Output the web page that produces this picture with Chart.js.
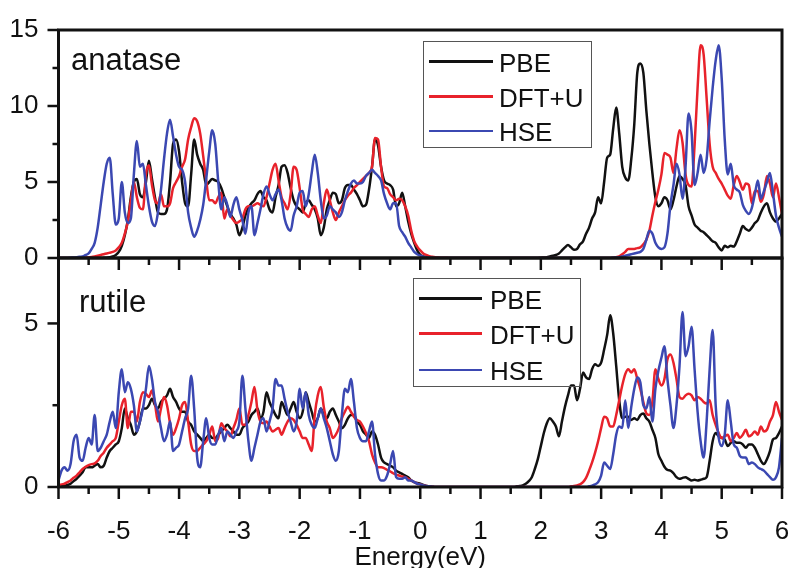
<!DOCTYPE html>
<html>
<head>
<meta charset="utf-8">
<script src="https://cdn.jsdelivr.net/npm/chart.js@4.4.1/dist/chart.umd.min.js"></script>
<style>
  html, body { margin: 0; padding: 0; background: #ffffff; }
  #wrap { position: relative; width: 790px; height: 568px; overflow: hidden;
          font-family: "Liberation Sans", Arial, sans-serif; color: #111; }
  #wrap canvas { position: absolute; left: 0; top: 0; }
  .panel-label { position: absolute; font-size: 31px; line-height: 31px; white-space: nowrap; }
  .legend { position: absolute; box-sizing: border-box; border: 1.5px solid #555; }
  .legend-line { position: absolute; height: 2.5px; }
  .legend-text { position: absolute; font-size: 26px; line-height: 26px; white-space: nowrap; }
</style>
</head>
<body>
<div id="wrap">
  <canvas id="topChart" width="790" height="568"></canvas>
  <canvas id="bottomChart" width="790" height="568"></canvas>
</div>
<script>
// ---------------- DATA ----------------
const energyStart = -6;          // eV, first sample
const energyStep = 0.05;         // eV between samples
const xTickValues = [-6, -5, -4, -3, -2, -1, 0, 1, 2, 3, 4, 5, 6];
const yTopTicks = [0, 5, 10, 15];
const yBottomTicks = [0, 5];
const xTitle = 'Energy(eV)';
const panelNames = ['anatase', 'rutile'];
const seriesNames = ['PBE', 'DFT+U', 'HSE'];
const seriesColors = ['#111111', '#e8222b', '#3b48b2'];

// anatase (top panel), one value every 0.05 eV from -6 to 6, one row per eV
const anatasePBE = [
  0,0,0,0,0,0,0,0,0,0,0,0,0,0,0,0.01,0.02,0.05,0.1,0.2,
  0.4,0.8,1.5,2.5,4.0,5.0,5.2,4.2,4.0,5.0,6.4,5.2,4.0,3.0,2.9,2.9,3.2,5.0,7.5,7.8,
  7.0,5.0,3.6,3.4,5.5,7.8,6.8,6.2,5.8,4.8,5.0,5.2,5.1,5.0,4.6,4.0,3.4,2.9,2.6,2.2,
  1.5,2.0,2.8,3.3,3.6,3.8,4.2,4.4,4.0,3.8,3.2,3.0,4.0,4.8,6.0,6.1,5.6,4.6,3.8,3.4,
  3.2,3.0,3.6,3.8,3.5,3.2,2.6,1.5,2.0,3.2,3.8,4.3,4.2,3.6,3.8,4.6,4.8,4.8,4.5,4.2,
  3.8,3.4,3.5,4.5,6.0,7.8,7.4,6.0,5.1,4.9,4.8,4.5,3.4,3.6,4.3,3.4,2.4,1.6,1.0,0.5,
  0.2,0.1,0.05,0.03,0.02,0.01,0.01,0,0,0,0,0,0,0,0,0,0,0,0,0,
  0,0,0,0,0,0,0,0,0,0,0,0,0,0,0,0,0,0,0,0,
  0.02,0.03,0.05,0.1,0.15,0.2,0.3,0.5,0.7,0.85,0.7,0.55,0.6,0.9,1.1,1.6,2.0,2.6,3.0,4.0,
  3.6,5.0,6.6,6.8,8.5,9.9,8.2,6.0,5.3,5.1,6.5,8.8,12.2,12.8,12.2,9.7,7.5,5.6,4.0,3.4,
  3.6,4.0,3.8,3.2,3.8,4.7,5.4,5.2,4.8,3.4,2.8,2.2,2.0,1.8,1.7,1.5,1.3,1.1,1.0,0.7,
  0.5,0.8,0.7,0.8,0.75,1.1,1.6,2.1,1.9,1.8,2.0,2.3,2.5,3.0,3.4,3.6,3.0,2.6,2.4,2.6,
  2.9
];
const anataseDFTU = [
  0,0,0,0,0,0,0,0,0,0.02,0.04,0.06,0.1,0.15,0.2,0.25,0.3,0.35,0.4,0.5,
  0.7,1.0,1.6,2.4,3.8,5.0,4.0,3.3,3.2,5.5,6.1,4.8,3.8,3.6,4.2,3.4,3.4,3.6,4.6,5.0,
  5.4,6.0,6.5,7.8,8.6,9.2,9.0,8.2,6.7,5.1,3.8,3.8,3.6,4.0,4.3,2.6,3.2,2.8,2.5,2.3,
  2.4,2.6,3.2,3.4,3.4,3.5,3.6,3.5,3.4,4.0,4.9,5.8,6.2,5.1,4.0,3.6,3.2,4.2,6.0,5.8,
  4.6,3.2,2.9,2.7,3.2,3.4,2.8,2.3,3.6,4.5,3.8,3.0,2.5,3.0,3.4,3.8,4.1,4.3,4.6,4.8,
  5.0,5.2,5.4,5.6,6.0,7.9,7.8,6.0,4.7,4.6,4.2,4.0,3.8,3.9,3.8,3.4,2.8,1.8,1.1,0.75,
  0.5,0.3,0.2,0.12,0.08,0.05,0.03,0.02,0.01,0.01,0,0,0,0,0,0,0,0,0,0,
  0,0,0,0,0,0,0,0,0,0,0,0,0,0,0,0,0,0,0,0,
  0,0,0,0,0,0,0,0,0,0,0,0,0,0,0,0,0,0,0,0,
  0,0,0,0,0.02,0.05,0.1,0.25,0.4,0.6,0.6,0.6,0.65,0.7,0.9,1.2,1.8,2.8,3.7,4.5,
  5.5,6.9,6.8,6.6,5.6,7.2,8.4,7.6,5.5,4.8,4.7,7.4,11.2,14.0,13.4,10.5,7.5,6.0,5.6,5.2,
  4.9,4.5,4.1,3.9,4.8,5.4,5.0,4.5,4.9,4.8,3.6,4.4,4.4,3.7,4.2,5.4,4.9,4.0,4.9,4.0,
  2.9
];
const anataseHSE = [
  0,0,0,0,0.02,0.03,0.05,0.08,0.1,0.2,0.3,0.6,1.0,2.0,3.5,5.0,6.2,6.6,4.2,2.2,
  2.6,5.0,3.0,2.3,2.6,5.5,7.7,6.0,6.2,4.8,3.4,2.4,2.1,3.0,4.5,6.5,8.2,9.1,8.0,6.8,
  6.0,5.8,5.0,3.0,2.0,1.4,1.8,2.5,3.5,5.2,7.0,8.4,7.5,5.0,3.2,4.0,3.5,2.7,3.5,4.0,
  3.2,2.5,1.6,3.0,3.4,1.5,2.3,3.2,4.2,4.7,4.2,3.8,4.2,4.5,3.8,2.6,2.0,1.8,2.8,3.4,
  4.3,4.4,3.4,4.2,5.6,6.8,5.6,3.8,2.6,2.8,3.4,3.2,3.0,2.7,3.0,3.8,4.4,4.9,5.1,4.9,
  4.9,5.0,5.4,5.6,5.8,5.6,5.4,5.1,4.2,3.6,3.2,3.6,3.6,2.1,1.7,1.4,1.0,0.7,0.4,0.25,
  0.15,0.08,0.04,0.02,0.01,0,0,0,0,0,0,0,0,0,0,0,0,0,0,0,
  0,0,0,0,0,0,0,0,0,0,0,0,0,0,0,0,0,0,0,0,
  0,0,0,0,0,0,0,0,0,0,0,0,0,0,0,0,0,0,0,0,
  0,0,0,0,0.02,0.03,0.05,0.1,0.15,0.2,0.25,0.3,0.35,0.4,0.6,1.2,1.8,1.6,1.0,0.7,
  0.6,0.7,1.6,3.5,4.8,6.2,5.5,3.9,6.0,9.5,8.3,4.8,5.6,6.8,5.6,6.5,9.0,11.2,13.0,14.0,
  11.8,7.8,5.5,6.2,4.8,4.5,4.3,3.5,3.1,2.9,3.3,4.2,5.1,3.9,4.4,5.0,5.6,4.3,2.8,2.0,
  1.4
];

// rutile (bottom panel)
const rutilePBE = [
  0,0.02,0.04,0.06,0.1,0.18,0.25,0.35,0.45,0.6,0.6,0.6,0.65,0.7,0.6,0.65,0.9,1.1,1.2,1.3,
  1.4,1.8,2.4,2.1,1.9,1.6,1.7,2.0,2.4,2.4,2.5,2.7,2.5,2.4,2.6,2.7,2.8,3.0,2.75,2.6,
  2.4,2.3,2.3,2.0,1.9,1.7,1.6,1.5,1.4,1.5,1.6,1.5,1.5,1.6,1.7,1.8,1.9,1.8,1.7,1.6,
  1.6,1.8,1.9,2.0,2.2,2.3,2.4,2.1,2.3,2.9,2.6,2.4,2.2,2.1,2.6,2.4,2.2,2.4,2.6,2.3,
  2.1,2.3,2.9,2.6,2.3,2.0,2.1,2.4,2.2,2.1,2.3,2.4,2.2,2.0,1.8,1.9,2.1,2.2,2.2,2.0,
  1.9,1.7,1.6,1.5,1.7,1.6,1.3,0.9,0.75,0.7,0.65,0.6,0.5,0.45,0.4,0.35,0.3,0.2,0.15,0.12,
  0.1,0.06,0.03,0.02,0.01,0,0,0,0,0,0,0,0,0,0,0,0,0,0,0,
  0,0,0,0,0,0,0,0,0,0,0,0,0.02,0.03,0.05,0.1,0.18,0.3,0.55,0.85,
  1.25,1.65,1.95,2.1,2.0,1.85,1.55,2.0,2.45,2.8,3.1,3.1,2.65,3.0,3.5,3.35,3.3,3.6,3.75,3.7,
  3.8,4.2,4.65,5.25,4.7,3.7,2.65,2.1,2.15,2.15,2.05,2.1,2.05,2.2,2.25,2.1,2.0,1.75,1.5,1.0,
  0.8,0.62,0.52,0.5,0.42,0.3,0.25,0.28,0.3,0.25,0.2,0.22,0.2,0.22,0.25,0.3,0.8,1.4,1.65,1.55,
  1.5,1.45,1.25,1.35,1.4,1.35,1.35,1.3,1.2,1.3,1.3,1.2,1.0,0.8,0.7,0.85,1.1,1.45,1.5,1.65,
  1.85
];
const rutileDFTU = [
  0.05,0.08,0.1,0.15,0.2,0.28,0.35,0.45,0.55,0.62,0.67,0.7,0.72,0.8,0.95,1.05,1.2,1.3,1.4,1.5,
  2.0,2.5,2.7,1.8,2.3,2.3,2.0,2.6,2.9,2.85,2.75,2.95,2.55,2.0,2.4,2.75,2.5,1.95,1.6,1.8,
  2.1,2.5,2.6,2.0,1.3,1.1,1.1,1.2,1.3,1.4,1.6,1.85,1.4,1.5,1.95,1.8,1.7,1.55,1.8,2.05,
  2.4,1.9,1.9,2.2,2.6,3.06,2.35,2.0,1.95,2.0,1.85,1.7,1.75,1.8,1.6,1.8,2.0,2.1,2.05,1.9,
  1.7,1.5,1.5,1.3,1.1,2.2,2.8,3.06,2.45,2.0,1.8,1.5,1.6,1.8,2.1,2.3,2.45,2.3,2.15,2.05,
  2.0,1.85,1.65,1.4,1.0,0.75,0.6,0.6,0.58,0.52,0.48,0.42,0.38,0.35,0.32,0.3,0.25,0.2,0.15,0.1,
  0.08,0.05,0.03,0.02,0.01,0,0,0,0,0,0,0,0,0,0,0,0,0,0,0,
  0,0,0,0,0,0,0,0,0,0,0,0,0,0,0,0,0,0,0,0,
  0,0,0,0,0,0,0,0,0,0,0.02,0.03,0.05,0.08,0.15,0.28,0.5,0.75,1.05,1.4,
  1.8,2.15,2.1,1.85,1.85,2.2,2.65,3.1,3.45,3.6,3.5,3.6,3.3,3.0,2.6,2.25,2.2,2.6,3.6,3.3,
  3.1,3.3,3.9,4.05,3.8,3.3,2.75,2.7,2.8,2.85,2.8,2.65,2.75,2.7,2.6,2.55,2.65,2.2,1.9,1.65,
  1.5,1.55,1.6,1.4,1.5,1.65,1.5,1.6,1.75,1.55,1.6,1.7,1.6,1.85,1.7,1.75,2.0,2.2,2.6,2.3,
  2.05
];
const rutileHSE = [
  0.2,0.5,0.6,0.5,0.7,1.4,1.6,0.9,0.8,1.2,1.5,1.3,2.2,1.1,1.2,1.4,1.6,2.0,2.3,1.8,
  2.9,3.6,2.9,3.2,3.0,2.5,1.7,2.0,2.4,3.0,3.7,3.3,2.6,2.3,1.8,1.4,1.6,2.0,1.1,1.2,
  1.3,1.7,2.1,2.4,3.4,2.4,0.9,0.6,1.4,2.1,1.5,1.3,1.3,1.6,1.8,1.4,1.7,1.6,1.5,1.7,
  2.0,3.4,2.4,1.4,0.8,1.2,1.6,2.0,2.1,1.7,2.0,2.4,3.3,3.1,3.1,2.7,2.3,2.0,1.7,2.0,
  3.0,2.4,2.9,2.2,1.9,1.8,2.1,2.4,2.1,1.8,1.4,1.0,0.8,1.1,2.2,3.0,2.9,3.3,2.6,1.8,
  1.5,1.4,1.4,1.7,2.0,1.0,0.4,0.2,0.2,0.35,0.7,1.1,0.3,0.25,0.25,0.3,0.2,0.2,0.15,0.1,
  0.08,0.05,0.03,0.02,0.01,0,0,0,0,0,0,0,0,0,0,0,0,0,0,0,
  0,0,0,0,0,0,0,0,0,0,0,0,0,0,0,0,0,0,0,0,
  0,0,0,0,0,0,0,0,0,0,0,0,0,0,0,0,0.02,0.04,0.08,0.15,
  0.35,0.75,0.65,0.55,1.0,1.6,1.85,1.8,2.65,1.8,2.45,3.0,3.35,3.2,2.5,2.4,2.75,2.0,3.0,3.55,
  3.95,4.3,3.3,2.5,1.8,2.5,3.7,5.35,4.0,4.3,4.9,3.6,2.3,1.4,0.9,2.0,3.6,4.8,2.5,1.5,
  1.25,1.6,2.65,2.0,1.3,1.2,0.95,0.9,0.9,0.7,0.75,0.7,0.6,0.55,0.5,0.4,0.3,0.22,0.3,0.6,
  1.5
];

// ---------------- RENDERING ----------------
const FONT = '"Liberation Sans", Arial, sans-serif';
const W = 790, H = 568;

const allSeries = [anatasePBE, anataseDFTU, anataseHSE, rutilePBE, rutileDFTU, rutileHSE];
allSeries.forEach((s, i) => { if (s.length !== 241) throw new Error('series ' + i + ' has ' + s.length + ' values'); });

function toPoints(values) {
  return values.map((v, i) => ({ x: +(energyStart + i * energyStep).toFixed(2), y: v }));
}

function makeDatasets(values) {
  return values.map((vals, k) => ({
    label: seriesNames[k],
    data: toPoints(vals),
    borderColor: seriesColors[k],
    borderWidth: 2.5,
    pointRadius: 0,
    cubicInterpolationMode: 'monotone',
    fill: false,
    order: 2 - k   // HSE drawn on top, PBE at the bottom
  }));
}

const frameAndTicks = {
  id: 'frameAndTicks',
  afterDraw(chart) {
    const { ctx, chartArea: a } = chart;
    const xs = chart.scales.x, ys = chart.scales.y;
    const seg = (x1, y1, x2, y2) => { ctx.beginPath(); ctx.moveTo(x1, y1); ctx.lineTo(x2, y2); ctx.stroke(); };
    ctx.save();
    ctx.strokeStyle = '#111';
    ctx.lineWidth = 2.5;
    // y ticks (outward, left)
    const yv = ys.ticks.map(t => t.value);
    const yStep = yv[1] - yv[0];
    yv.forEach(v => { const p = ys.getPixelForValue(v); seg(a.left - 11, p, a.left, p); });
    yv.forEach(v => { const m = v + yStep / 2; if (m < ys.max) { const p = ys.getPixelForValue(m); seg(a.left - 6, p, a.left, p); } });
    // x ticks (outward, down)
    const xv = xs.ticks.map(t => t.value);
    const xStep = xv[1] - xv[0];
    xv.forEach(v => { const p = xs.getPixelForValue(v); seg(p, a.bottom, p, a.bottom + 12); });
    xv.forEach(v => { const m = v + xStep / 2; if (m < xs.max) { const p = xs.getPixelForValue(m); seg(p, a.bottom, p, a.bottom + 7); } });
    // frame
    ctx.lineWidth = 3;
    ctx.strokeRect(a.left, a.top, a.right - a.left, a.bottom - a.top);
    ctx.restore();
  }
};

function makeChart(id, datasets, opts) {
  return new Chart(document.getElementById(id), {
    type: 'line',
    data: { datasets },
    plugins: [frameAndTicks],
    options: {
      responsive: false,
      animation: false,
      devicePixelRatio: 1,
      events: [],
      layout: { padding: { left: 0, right: 8, top: opts.top, bottom: 0 } },
      plugins: { legend: { display: false }, tooltip: { enabled: false } },
      scales: {
        x: {
          type: 'linear', min: -6, max: 6,
          afterBuildTicks: s => { s.ticks = xTickValues.map(v => ({ value: v })); },
          afterFit: s => { s.height = H - opts.bottom; s.paddingLeft = 0; s.paddingRight = 0; },
          grid: { display: false },
          border: { display: false },
          ticks: { display: opts.xLabels, autoSkip: false, maxRotation: 0, padding: 21,
                   color: '#111', font: { family: FONT, size: 26 } },
          title: { display: opts.xLabels, text: xTitle, color: '#111',
                   font: { family: FONT, size: 26, lineHeight: 1.0 }, padding: { top: 0, bottom: -3 } }
        },
        y: {
          type: 'linear', min: 0, max: opts.yMax,
          afterBuildTicks: s => { s.ticks = opts.yTicks.map(v => ({ value: v })); },
          afterFit: s => { s.width = 58.5; s.paddingTop = 0; s.paddingBottom = 0; },
          grid: { display: false },
          border: { display: false },
          ticks: { padding: 12, color: '#111', font: { family: FONT, size: 26 } }
        }
      }
    }
  });
}

const topChart = makeChart('topChart', makeDatasets([anatasePBE, anataseDFTU, anataseHSE]),
  { top: 30, bottom: 258, yMax: 15, yTicks: yTopTicks, xLabels: false });
const bottomChart = makeChart('bottomChart', makeDatasets([rutilePBE, rutileDFTU, rutileHSE]),
  { top: 258, bottom: 487, yMax: 7, yTicks: yBottomTicks, xLabels: true });

// ---------------- HTML labels & legends ----------------
const wrap = document.getElementById('wrap');
function addDiv(cls, text, style) {
  const d = document.createElement('div');
  d.className = cls;
  if (text) d.textContent = text;
  Object.assign(d.style, style);
  wrap.appendChild(d);
  return d;
}
addDiv('panel-label', panelNames[0], { left: '71px', top: '44px' });
addDiv('panel-label', panelNames[1], { left: '79px', top: '286px' });

function addLegend(box, lineX, textX, baselines) {
  addDiv('legend', '', { left: box[0] + 'px', top: box[1] + 'px', width: box[2] + 'px', height: box[3] + 'px' });
  seriesNames.forEach((name, k) => {
    addDiv('legend-line', '', { left: lineX[0] + 'px', width: (lineX[1] - lineX[0]) + 'px',
      top: (baselines[k] - 11.5) + 'px', background: seriesColors[k] });
    addDiv('legend-text', name, { left: textX + 'px', top: (baselines[k] - 22) + 'px' });
  });
}
addLegend([423, 41, 169, 107], [429, 493], 499, [71.5, 106.5, 141]);
addLegend([413, 278, 168, 109], [419, 482], 490, [308.5, 343.5, 380]);
</script>
</body>
</html>
